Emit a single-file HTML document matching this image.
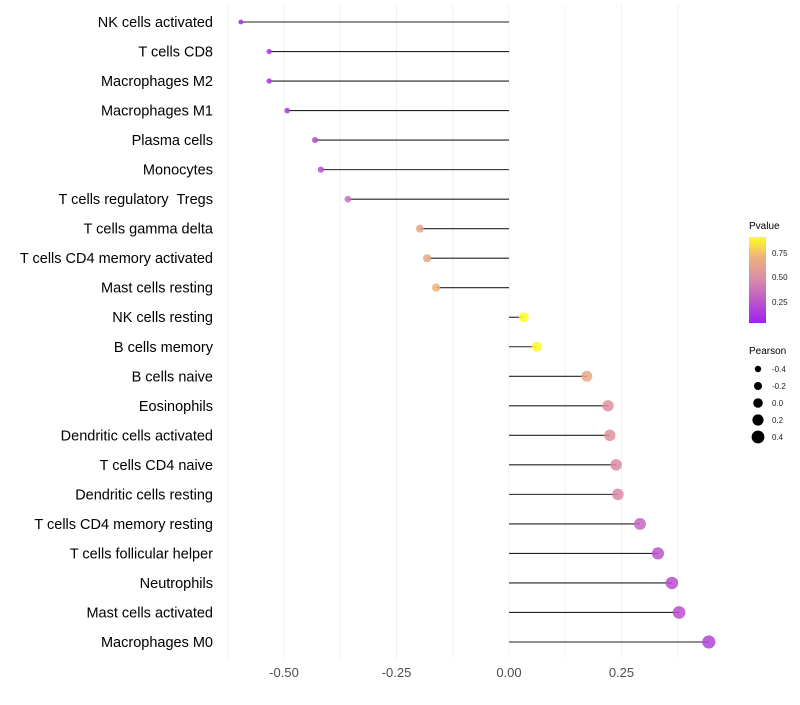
<!DOCTYPE html>
<html><head><meta charset="utf-8"><style>
body{margin:0;background:#fff;font-family:"Liberation Sans",sans-serif}
text{white-space:pre}
</style></head><body>
<svg id="chart" width="800" height="700" xmlns="http://www.w3.org/2000/svg" font-family="Liberation Sans, sans-serif">
<defs><linearGradient id="pg" x1="0" y1="1" x2="0" y2="0">
<stop offset="0" stop-color="#a020f0"/><stop offset="0.5" stop-color="#d98aa8"/><stop offset="0.78" stop-color="#f0b478"/><stop offset="1" stop-color="#ffff20"/></linearGradient></defs>
<g id="grid"></g>
<g id="marks"></g>
<g id="axes"></g>
<g>
<text x="749" y="229" font-size="10" fill="#000">Pvalue</text>
<rect x="749" y="237" width="17" height="86" fill="url(#pg)"/>
<text x="772" y="256" font-size="8" fill="#222">0.75</text>
<text x="772" y="280" font-size="8" fill="#222">0.50</text>
<text x="772" y="305" font-size="8" fill="#222">0.25</text>
</g>
<g id="sizeleg">
<text x="749" y="354" font-size="10" fill="#000">Pearson</text>
</g>
</svg>
<script>
const categories=["NK cells activated","T cells CD8","Macrophages M2","Macrophages M1","Plasma cells","Monocytes","T cells regulatory  Tregs","T cells gamma delta","T cells CD4 memory activated","Mast cells resting","NK cells resting","B cells memory","B cells naive","Eosinophils","Dendritic cells activated","T cells CD4 naive","Dendritic cells resting","T cells CD4 memory resting","T cells follicular helper","Neutrophils","Mast cells activated","Macrophages M0"];
const pearson=[-0.596,-0.533,-0.533,-0.493,-0.431,-0.418,-0.358,-0.198,-0.182,-0.162,0.033,0.062,0.173,0.22,0.224,0.238,0.242,0.291,0.331,0.362,0.378,0.444];
const pvalue=[0.05,0.08,0.08,0.12,0.2,0.2,0.33,0.6,0.63,0.7,0.92,0.88,0.62,0.5,0.5,0.45,0.45,0.3,0.22,0.2,0.2,0.15];
const xTicks=[-0.5,-0.25,0,0.25];
const xTickLabels=["-0.50","-0.25","0.00","0.25"];
const sizeLegendValues=[-0.4,-0.2,0,0.2,0.4];
const NS="http://www.w3.org/2000/svg";
const x=v=>509+v*450;
const y=i=>22+i*(620/21);
const r=v=>4.8+4*v;
const stops=[[0,[160,32,240]],[0.45,[217,138,168]],[0.7,[240,180,120]],[0.9,[255,255,32]]];
function col(p){if(p<=stops[0][0])return stops[0][1];for(let k=1;k<stops.length;k++){if(p<=stops[k][0]){const a=stops[k-1],b=stops[k],t=(p-a[0])/(b[0]-a[0]);return a[1].map((c,j)=>Math.round(c+(b[1][j]-c)*t));}}return stops[stops.length-1][1];}
function el(t,a,p){const e=document.createElementNS(NS,t);for(const k in a)e.setAttribute(k,a[k]);p.appendChild(e);return e;}
const grid=document.getElementById('grid'),marks=document.getElementById('marks'),axes=document.getElementById('axes');
for(let v=-0.625;v<=0.38;v+=0.125){const g=el('line',{x1:x(v),x2:x(v),y1:5,y2:658,stroke:'#f0f0f0','stroke-width':1},grid);

}
xTicks.forEach((v,i)=>{const t=el('text',{x:x(v),y:677,'font-size':13,fill:'#4d4d4d','text-anchor':'middle'},axes);t.textContent=xTickLabels[i];

});
categories.forEach((c,i)=>{const t=el('text',{x:213,y:y(i)+5,'font-size':14.5,fill:'#000','text-anchor':'end'},axes);t.textContent=c;


const l=el('line',{x1:x(0),x2:x(pearson[i]),y1:y(i),y2:y(i),stroke:'#222','stroke-width':1.1},marks);


const cc=col(pvalue[i]);
const d=el('circle',{cx:x(pearson[i]),cy:y(i),r:r(pearson[i]),fill:`rgb(${cc})`,'fill-opacity':0.85},marks);

});
const sl=document.getElementById('sizeleg');
sizeLegendValues.forEach((v,i)=>{const cy=369+i*17;
const c=el('circle',{cx:758,cy:cy,r:r(v),fill:'#000'},sl);


const t=el('text',{x:772,y:cy+3,'font-size':8,fill:'#222'},sl);t.textContent=v===0?"0.0":String(v);

});
</script>
</body></html>
